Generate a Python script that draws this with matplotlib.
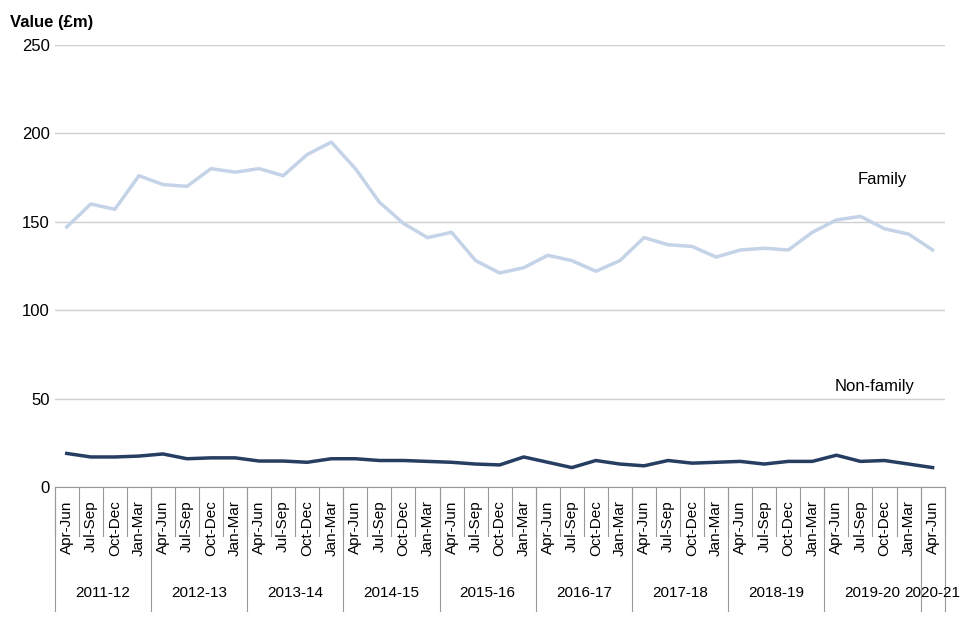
import matplotlib.pyplot as plt
import numpy as np

plt.rcParams['font.family'] = 'Liberation Sans'

# data
quarters = ["Apr-Jun", "Jul-Sep", "Oct-Dec", "Jan-Mar"] * 9 + ["Apr-Jun"]
years = ["2011-12", "2012-13", "2013-14", "2014-15", "2015-16",
         "2016-17", "2017-18", "2018-19", "2019-20", "2020-21"]
family = [147, 160, 157, 176, 171, 170, 180, 178, 180, 176, 188, 195,
          180, 161, 149, 141, 144, 128, 121, 124, 131, 128, 122, 128,
          141, 137, 136, 130, 134, 135, 134, 144, 151, 153, 146, 143, 134]
non_family = [19, 17, 17, 17.5, 18.7, 16, 16.5, 16.5, 14.7, 14.7, 14, 16,
              16, 15, 15, 14.5, 14, 13, 12.5, 17, 14, 11, 15, 13,
              12, 15, 13.5, 14, 14.5, 13, 14.5, 14.5, 18, 14.5, 15, 13, 11]

x = np.arange(len(quarters))

fig = plt.figure(figsize=(9.6, 6.4), dpi=100)
ax = fig.add_axes([0.057, 0.239, 0.927, 0.691])

ax.plot(x, family, color='#c5d3e8', linewidth=2.5)
ax.plot(x, non_family, color='#263e62', linewidth=2.5)

ax.set_xlim(-0.5, len(x) - 0.5)
ax.set_ylim(0, 250)
ax.set_yticks(range(0, 251, 50))
ax.tick_params(axis='y', length=0, labelsize=12)
ax.grid(axis='y', color='#d0d0d0', linewidth=1)
for s in ['top', 'right', 'left']:
    ax.spines[s].set_visible(False)
ax.spines['bottom'].set_color('#999999')

# multi-level x axis
ax.set_xticks([])
trans = ax.get_xaxis_transform()
for i, q in enumerate(quarters):
    ax.text(i, -0.03, q, rotation=90, ha='center', va='top', fontsize=11, transform=trans)
for b in np.arange(-0.5, len(x), 1):
    ax.plot([b, b], [0, -0.11], color='#999999', lw=0.8, transform=trans, clip_on=False)
for k, yr in enumerate(years):
    start = k * 4 - 0.5
    end = min(start + 4, len(x) - 0.5)
    ax.plot([start, start], [0, -0.28], color='#999999', lw=0.8, transform=trans, clip_on=False)
    ax.text((start + end) / 2, -0.24, yr, ha='center', va='center', fontsize=11, transform=trans)
ax.plot([len(x) - 0.5] * 2, [0, -0.28], color='#999999', lw=0.8, transform=trans, clip_on=False)

ax.text(33.9, 174, "Family", ha='center', va='center', fontsize=12)
ax.text(33.6, 57, "Non-family", ha='center', va='center', fontsize=12)
fig.text(0.01, 0.965, "Value (£m)", fontsize=12, fontweight='bold', va='center')

plt.savefig('out.png', dpi=100)
